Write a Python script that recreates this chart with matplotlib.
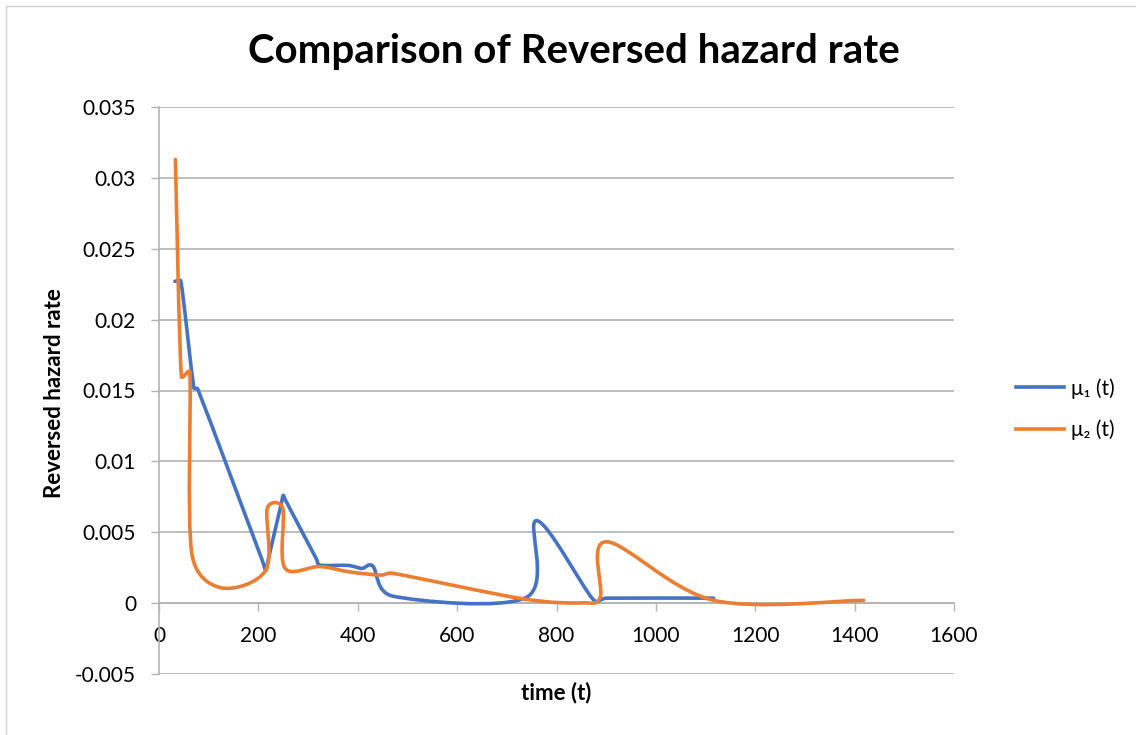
import numpy as np
import matplotlib
matplotlib.use("Agg")
import matplotlib.pyplot as plt
from matplotlib.path import Path
from matplotlib.patches import PathPatch, Rectangle
from matplotlib.lines import Line2D

plt.rcParams['font.family'] = ['Lato', 'DejaVu Sans']

TITLE = "Comparison of Reversed hazard rate"
XLABEL = "time (t)"
YLABEL = "Reversed hazard rate"
LABELS = ["μ₁ (t)", "μ₂ (t)"]
COLORS = ["#4472C4", "#ED7D31"]

# points (series are not sorted in t)
t1 = [32, 44, 70, 78, 208, 215, 220, 247, 250, 254, 317, 324, 380, 408, 430, 471,
      740, 760, 874, 901, 1116]
mu1 = [0.0227, 0.0227, 0.0152, 0.0151, 0.0030, 0.00233, 0.0031, 0.00715, 0.0076, 0.0073,
       0.0031, 0.00268, 0.00266, 0.00245, 0.00262, 0.00049, 0.00042, 0.00582, 0.00025,
       0.00035, 0.00035]
t2 = [33, 45, 62, 66, 125, 215, 218, 249, 253, 324, 384, 445, 471, 733, 854, 888, 901,
      1116, 1418]
mu2 = [0.0313, 0.0160, 0.0163, 0.0035, 0.00108, 0.00233, 0.0067, 0.0067, 0.0025, 0.00258,
       0.0022, 0.00198, 0.0021, 0.0003, 0.00002, 0.00042, 0.00433, 0.0002, 0.0002]

XTICKS = [0, 200, 400, 600, 800, 1000, 1200, 1400, 1600]
YTICKS = [-0.005, 0, 0.005, 0.01, 0.015, 0.02, 0.025, 0.03, 0.035]
YTICKLABELS = ["-0.005", "0", "0.005", "0.01", "0.015", "0.02", "0.025", "0.03", "0.035"]

W, H = 1136, 735
fig = plt.figure(figsize=(W / 100, H / 100), dpi=100)
ax = fig.add_axes([159 / W, 1 - 674 / H, (954 - 159) / W, (674 - 107) / H])
ax.set_xlim(0, 1600)
ax.set_ylim(-0.005, 0.035)

GRID = "#b3b3b3"
for s in ("top", "right"):
    ax.spines[s].set_visible(False)
ax.spines["left"].set_color(GRID)
ax.spines["bottom"].set_color(GRID)
ax.spines["bottom"].set_position(("data", 0))
ax.spines["left"].set_linewidth(1.2)
ax.spines["bottom"].set_linewidth(1.2)
ax.set_xticks(XTICKS)
ax.set_yticks(YTICKS)
ax.set_yticklabels(YTICKLABELS)
ax.tick_params(axis="both", direction="out", length=5.5, width=1.0, color=GRID,
               labelsize=15, labelcolor="black")
ax.tick_params(axis="y", pad=11)
ax.tick_params(axis="x", pad=11)
ax.yaxis.grid(True, color=GRID, lw=1.2)
ax.set_axisbelow(True)


def excel_smooth(ax, xs, ys):
    # Excel-like smoothed line: Bezier pieces, handles capped at half a segment (screen space)
    P = ax.transData.transform(np.column_stack([xs, ys]))
    n = len(P)
    verts = [P[0]]
    codes = [Path.MOVETO]
    for i in range(n - 1):
        p0, p1, p2, p3 = P[max(i - 1, 0)], P[i], P[i + 1], P[min(i + 2, n - 1)]
        d12 = np.hypot(*(p2 - p1)); d02 = np.hypot(*(p2 - p0)); d13 = np.hypot(*(p3 - p1))
        f = min(1 / 6, d12 / (2 * d02)) if d02 > 0 else 0
        g = min(1 / 6, d12 / (2 * d13)) if d13 > 0 else 0
        verts += [p1 + f * (p2 - p0), p2 - g * (p3 - p1), p2]
        codes += [Path.CURVE4] * 3
    return Path(ax.transData.inverted().transform(np.array(verts)), codes)


for xs, ys, c in ((t1, mu1, COLORS[0]), (t2, mu2, COLORS[1])):
    ax.add_patch(PathPatch(excel_smooth(ax, xs, ys), fc="none", ec=c, lw=2.6,
                           capstyle="round", joinstyle="round", zorder=3))

handles = [Line2D([], [], color=c, lw=2.6) for c in COLORS]
fig.legend(handles, LABELS, loc="center left", bbox_to_anchor=(1016 / W, 1 - 409 / H),
           frameon=False, fontsize=15, handlelength=2.3, handletextpad=0.35,
           labelspacing=1.0, borderpad=0, borderaxespad=0)

fig.text(574 / W, 1 - 52 / H, TITLE, ha="center", va="center", fontsize=29, fontweight="bold")
fig.text(556 / W, 1 - 693 / H, XLABEL, ha="center", va="center", fontsize=16, fontweight="bold")
fig.text(55 / W, 1 - 393 / H, YLABEL, ha="center", va="center", rotation=90,
         fontsize=16, fontweight="bold")

fig.patches.append(Rectangle((6 / W, -0.05), 1.2, 1.05 - 6 / H, transform=fig.transFigure,
                             fill=False, ec="#d0d0d0", lw=1.0))

fig.savefig("out.png", dpi=100)
